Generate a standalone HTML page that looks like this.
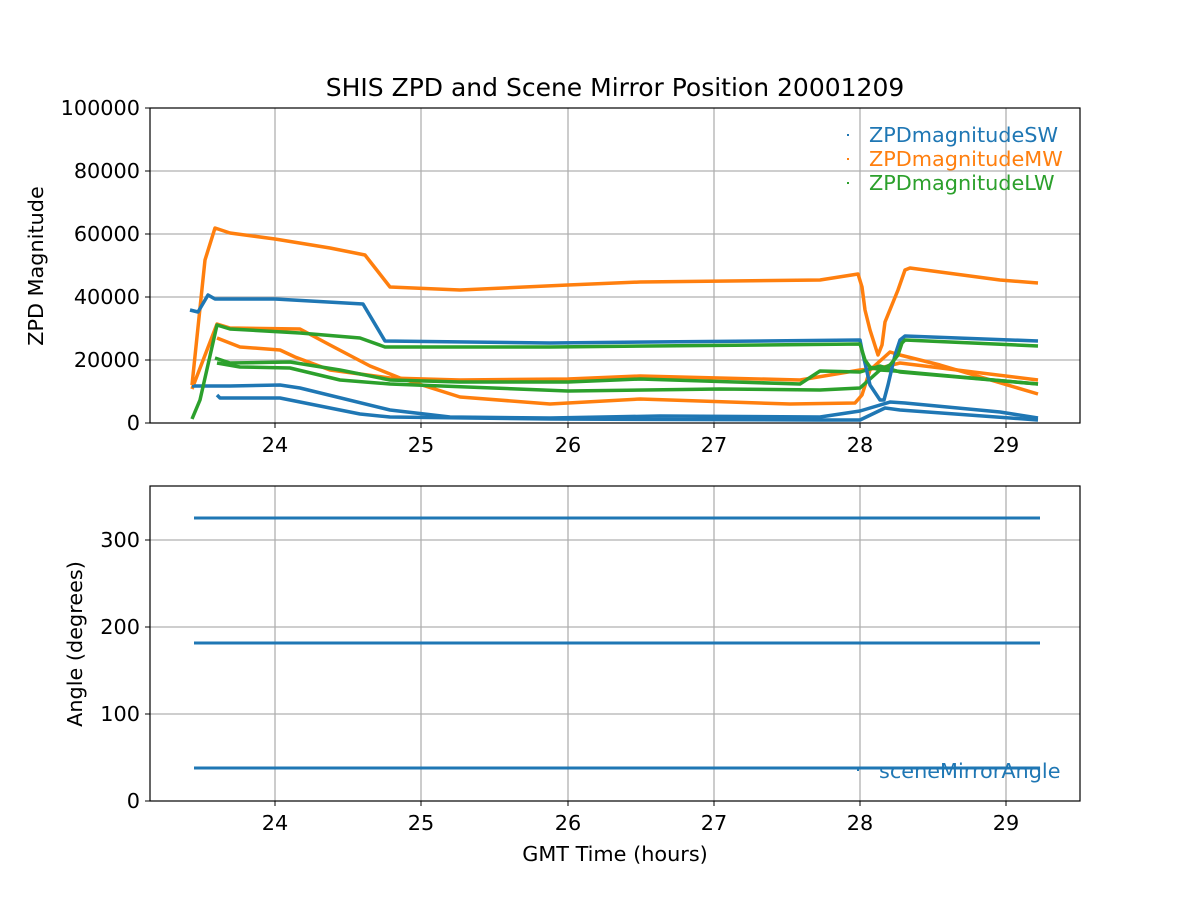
<!DOCTYPE html>
<html><head><meta charset="utf-8"><style>body{margin:0;background:#fff}svg{display:block}</style></head>
<body>
<svg width="1200" height="900" xmlns="http://www.w3.org/2000/svg" font-family="DejaVu Sans, Liberation Sans, sans-serif">
<rect width="1200" height="900" fill="#fff"/>
<g stroke="#b0b0b0" stroke-width="1.3">
<line x1="275" y1="108" x2="275" y2="423"/><line x1="421" y1="108" x2="421" y2="423"/><line x1="568" y1="108" x2="568" y2="423"/><line x1="714" y1="108" x2="714" y2="423"/><line x1="860" y1="108" x2="860" y2="423"/><line x1="1006" y1="108" x2="1006" y2="423"/>
<line x1="150" y1="360" x2="1080" y2="360"/><line x1="150" y1="297" x2="1080" y2="297"/><line x1="150" y1="234" x2="1080" y2="234"/><line x1="150" y1="171" x2="1080" y2="171"/>
<line x1="275" y1="486" x2="275" y2="801"/><line x1="421" y1="486" x2="421" y2="801"/><line x1="568" y1="486" x2="568" y2="801"/><line x1="714" y1="486" x2="714" y2="801"/><line x1="860" y1="486" x2="860" y2="801"/><line x1="1006" y1="486" x2="1006" y2="801"/>
<line x1="150" y1="714" x2="1080" y2="714"/><line x1="150" y1="627" x2="1080" y2="627"/><line x1="150" y1="540" x2="1080" y2="540"/>
</g>
<g fill="none" stroke-width="3.5" stroke-linejoin="round">
<polyline stroke="#ff7f0e" points="192,389 217,324 230,328 300,329 330,345 370,366 400,378 460,397 550,404 640,399 790,404 855,403 862,395 870,370 890,352 900,355 940,365 1038,394"/>
<polyline stroke="#ff7f0e" points="217,338 240,347 280,350 295,357 330,370 390,378 460,380 568,379 640,376 800,380 860,370 880,368 900,363 1038,380"/>
<polyline stroke="#1f77b4" points="192,386 230,386 280,385 300,388 390,410 450,417 550,418 660,416 820,417 860,411 890,402 905,403 1000,412 1038,418"/>
<polyline stroke="#1f77b4" points="217,395 220,398 280,398 290,400 360,414 390,417 550,419 820,420 860,420 885,408 900,410 1038,420"/>
<polyline stroke="#2ca02c" points="215,358 230,363 290,362 340,370 390,380 460,382 568,382 640,379 800,384 820,371 860,372 880,366 900,372 1038,384"/>
<polyline stroke="#2ca02c" points="217,363 240,367 290,368 340,380 390,384 568,391 720,389 820,390 860,388 880,370 895,371 1038,384"/>
<polyline stroke="#ff7f0e" points="192,385 205,260 215,228 230,233 275,239 330,248 365,255 390,287 460,290 568,285 640,282 820,280 858,274 862,287 865,310 870,330 878,355 882,345 885,322 898,290 905,270 910,268 1000,280 1038,283"/>
<polyline stroke="#1f77b4" points="190,310 198,312 208,295 215,299 275,299 363,304 385,341 550,343 860,340 862,350 870,385 880,400 884,400 888,385 895,355 900,340 905,336 1038,341"/>
<polyline stroke="#2ca02c" points="192,419 200,400 217,325 230,329 300,333 360,338 385,347 550,347 860,344 865,360 870,367 880,370 890,365 898,355 902,343 905,340 1038,346"/>
</g>
<g stroke="#1f77b4" stroke-width="3">
<line x1="194" y1="518" x2="1040" y2="518"/><line x1="194" y1="643" x2="1040" y2="643"/><line x1="194" y1="768" x2="1040" y2="768"/>
</g>
<g fill="none" stroke="#000" stroke-width="1.2">
<rect x="150" y="108" width="930" height="315"/><rect x="150" y="486" width="930" height="315"/>
</g>
<g stroke="#000" stroke-width="1">
<line x1="275" y1="423" x2="275" y2="428"/><line x1="421" y1="423" x2="421" y2="428"/><line x1="568" y1="423" x2="568" y2="428"/><line x1="714" y1="423" x2="714" y2="428"/><line x1="860" y1="423" x2="860" y2="428"/><line x1="1006" y1="423" x2="1006" y2="428"/>
<line x1="275" y1="801" x2="275" y2="806"/><line x1="421" y1="801" x2="421" y2="806"/><line x1="568" y1="801" x2="568" y2="806"/><line x1="714" y1="801" x2="714" y2="806"/><line x1="860" y1="801" x2="860" y2="806"/><line x1="1006" y1="801" x2="1006" y2="806"/>
<line x1="145" y1="423" x2="150" y2="423"/><line x1="145" y1="360" x2="150" y2="360"/><line x1="145" y1="297" x2="150" y2="297"/><line x1="145" y1="234" x2="150" y2="234"/><line x1="145" y1="171" x2="150" y2="171"/><line x1="145" y1="108" x2="150" y2="108"/>
<line x1="145" y1="801" x2="150" y2="801"/><line x1="145" y1="714" x2="150" y2="714"/><line x1="145" y1="627" x2="150" y2="627"/><line x1="145" y1="540" x2="150" y2="540"/>
</g>
<g font-size="20.8" fill="#000" text-anchor="middle">
<text x="275" y="452">24</text><text x="421" y="452">25</text><text x="568" y="452">26</text><text x="714" y="452">27</text><text x="860" y="452">28</text><text x="1006" y="452">29</text>
<text x="275" y="830">24</text><text x="421" y="830">25</text><text x="568" y="830">26</text><text x="714" y="830">27</text><text x="860" y="830">28</text><text x="1006" y="830">29</text>
</g>
<g font-size="20.8" fill="#000" text-anchor="end">
<text x="140" y="430">0</text><text x="140" y="367">20000</text><text x="140" y="304">40000</text><text x="140" y="241">60000</text><text x="140" y="178">80000</text><text x="140" y="115">100000</text>
<text x="140" y="808">0</text><text x="140" y="721">100</text><text x="140" y="634">200</text><text x="140" y="547">300</text>
</g>
<text x="615" y="96" font-size="25" text-anchor="middle">SHIS ZPD and Scene Mirror Position 20001209</text>
<text x="615" y="861" font-size="20.8" text-anchor="middle">GMT Time (hours)</text>
<text transform="translate(43,266) rotate(-90)" font-size="20.8" text-anchor="middle">ZPD Magnitude</text>
<text transform="translate(82,644) rotate(-90)" font-size="20.8" text-anchor="middle">Angle (degrees)</text>
<g font-size="20.8">
<rect x="847" y="134" width="2" height="2" fill="#1f77b4"/><text x="869" y="142" fill="#1f77b4">ZPDmagnitudeSW</text>
<rect x="847" y="158" width="2" height="2" fill="#ff7f0e"/><text x="869" y="166" fill="#ff7f0e">ZPDmagnitudeMW</text>
<rect x="847" y="182" width="2" height="2" fill="#2ca02c"/><text x="869" y="190" fill="#2ca02c">ZPDmagnitudeLW</text>
<rect x="857" y="769" width="2" height="2" fill="#1f77b4"/><text x="879" y="778" fill="#1f77b4">sceneMirrorAngle</text>
</g>
</svg>
</body></html>
